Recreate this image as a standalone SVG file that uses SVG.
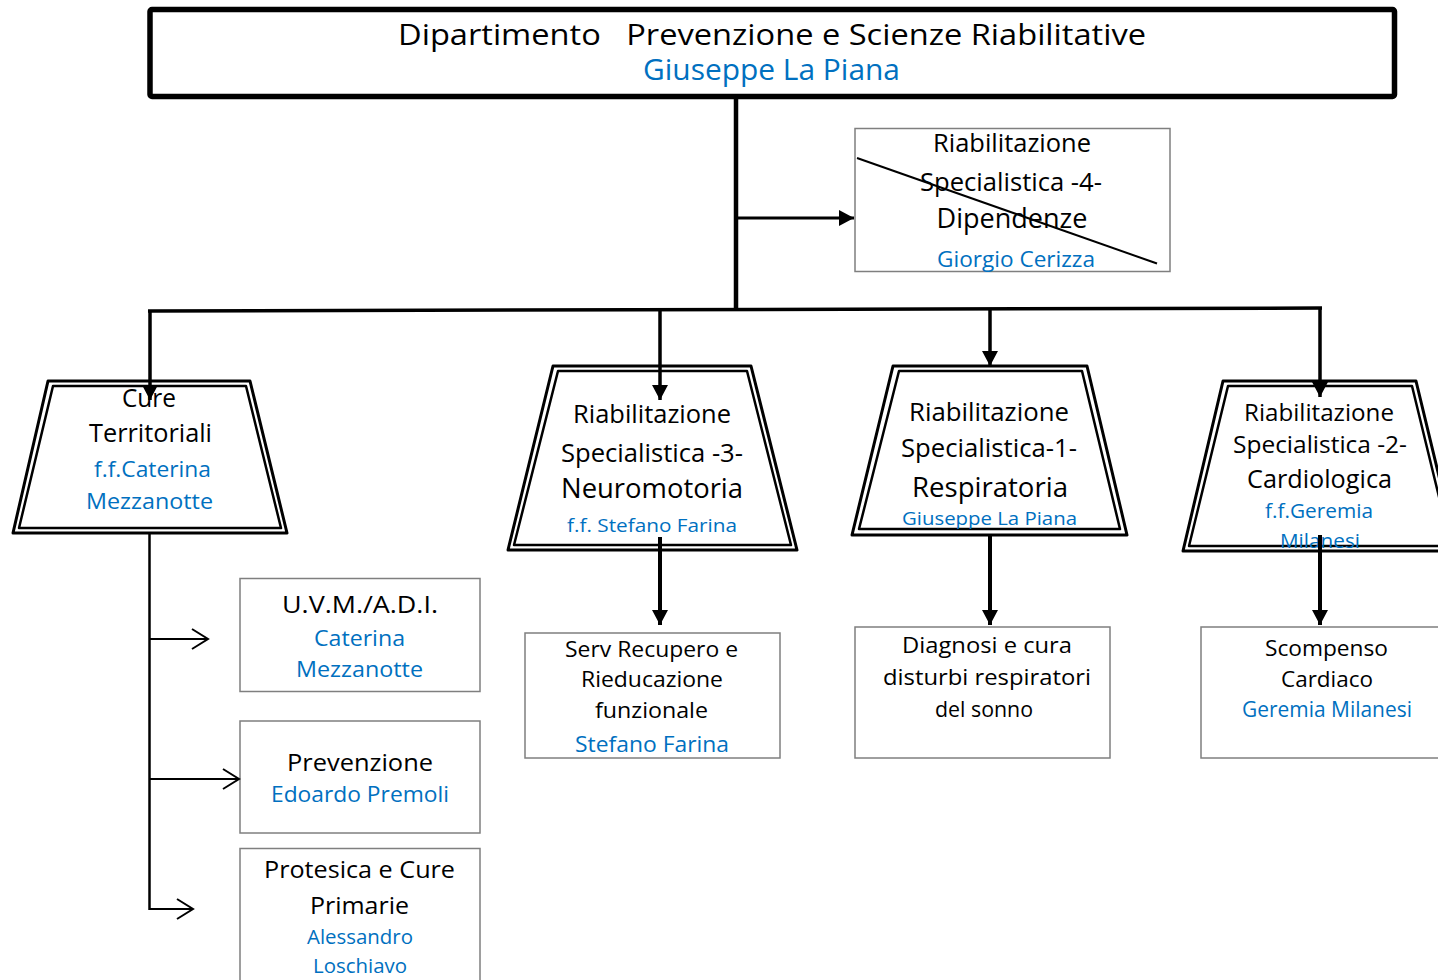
<svg xmlns="http://www.w3.org/2000/svg" width="1438" height="980" viewBox="0 0 1438 980">
<style>
text{font-family:"Open Sans","Noto Sans",sans-serif;text-anchor:middle;fill:#000}
.b{fill:#0070C0}
.box{fill:#fff;stroke:#7f7f7f;stroke-width:1.5}
.tz{fill:#fff;stroke:#000;stroke-width:3;stroke-linejoin:round}
.tzi{fill:none;stroke:#000;stroke-width:2.5;stroke-linejoin:round}
.c{fill:none;stroke:#000}
</style>
<defs>
<marker id="fa" markerUnits="userSpaceOnUse" markerWidth="16" markerHeight="16" refX="15" refY="8" orient="auto">
<path d="M0,0 L15,8 L0,16 z" fill="#000"/>
</marker>
<marker id="oa" markerUnits="userSpaceOnUse" markerWidth="20" markerHeight="24" refX="17" refY="11" orient="auto">
<path d="M1,1 L17,11 L1,21" fill="none" stroke="#000" stroke-width="2"/>
</marker>
</defs>
<rect width="1438" height="980" fill="#fff"/>

<g id="dept">
<rect x="150" y="9.5" width="1244.5" height="87" rx="2" fill="#fff" stroke="#000" stroke-width="5.5"/>
<text x="772" y="45" font-size="30" textLength="748" lengthAdjust="spacingAndGlyphs" xml:space="preserve">Dipartimento   Prevenzione e Scienze Riabilitative</text>
<text class="b" x="771.5" y="80" font-size="30" textLength="257" lengthAdjust="spacingAndGlyphs">Giuseppe La Piana</text>
</g>

<g id="dipendenze">
<rect class="box" x="855" y="128.5" width="315" height="143"/>
<text x="1012" y="152" font-size="25" textLength="158" lengthAdjust="spacingAndGlyphs">Riabilitazione</text>
<text x="1011" y="191" font-size="25" textLength="182" lengthAdjust="spacingAndGlyphs">Specialistica -4-</text>
<text x="1012" y="228" font-size="28" textLength="151" lengthAdjust="spacingAndGlyphs">Dipendenze</text>
<text class="b" x="1016" y="267" font-size="22" textLength="158" lengthAdjust="spacingAndGlyphs">Giorgio Cerizza</text>
<line x1="857" y1="158" x2="1157" y2="263.5" stroke="#000" stroke-width="2"/>
</g>

<g id="cure">
<polygon class="tz" points="48,381 250,381 287,533 13,533"/>
<polygon class="tzi" points="53,386 246,386 281,528 19,528"/>
<text x="149" y="407" font-size="25" textLength="54" lengthAdjust="spacingAndGlyphs">Cure</text>
<text x="150.5" y="442" font-size="25" textLength="123" lengthAdjust="spacingAndGlyphs">Territoriali</text>
<text class="b" x="152.5" y="477" font-size="22" textLength="117" lengthAdjust="spacingAndGlyphs">f.f.Caterina</text>
<text class="b" x="149.5" y="509" font-size="22" textLength="127" lengthAdjust="spacingAndGlyphs">Mezzanotte</text>
</g>

<g id="neuro">
<polygon class="tz" points="553,366 751,366 797,550 508,550"/>
<polygon class="tzi" points="558,371 747,371 791,545 514,545"/>
<text x="652" y="423" font-size="25" textLength="158" lengthAdjust="spacingAndGlyphs">Riabilitazione</text>
<text x="652" y="462" font-size="25" textLength="182" lengthAdjust="spacingAndGlyphs">Specialistica -3-</text>
<text x="652" y="498" font-size="28" textLength="182" lengthAdjust="spacingAndGlyphs">Neuromotoria</text>
<text class="b" x="652" y="532" font-size="19" textLength="170" lengthAdjust="spacingAndGlyphs">f.f. Stefano Farina</text>
</g>

<g id="respir">
<polygon class="tz" points="893,366 1087,366 1127,535 852,535"/>
<polygon class="tzi" points="899,371 1082,371 1120,529 859,529"/>
<text x="989" y="421" font-size="25" textLength="160" lengthAdjust="spacingAndGlyphs">Riabilitazione</text>
<text x="989" y="457" font-size="25" textLength="176" lengthAdjust="spacingAndGlyphs">Specialistica-1-</text>
<text x="990" y="497" font-size="28" textLength="156" lengthAdjust="spacingAndGlyphs">Respiratoria</text>
<text class="b" x="989.5" y="525" font-size="19" textLength="175" lengthAdjust="spacingAndGlyphs">Giuseppe La Piana</text>
</g>

<g id="cardio">
<polygon class="tz" points="1223,381 1416,381 1457,551 1183,551"/>
<polygon class="tzi" points="1228,386 1412,386 1451,546 1189,546"/>
<text x="1319" y="421" font-size="23" textLength="150" lengthAdjust="spacingAndGlyphs">Riabilitazione</text>
<text x="1320" y="453" font-size="23" textLength="174" lengthAdjust="spacingAndGlyphs">Specialistica -2-</text>
<text x="1319.5" y="488" font-size="25" textLength="145" lengthAdjust="spacingAndGlyphs">Cardiologica</text>
<text class="b" x="1319" y="518" font-size="20" textLength="108" lengthAdjust="spacingAndGlyphs">f.f.Geremia</text>
<text class="b" x="1320" y="548" font-size="20" textLength="80" lengthAdjust="spacingAndGlyphs">Milanesi</text>
</g>

<g id="serv">
<rect class="box" x="525" y="633" width="255" height="125"/>
<text x="651.5" y="657" font-size="22" textLength="173" lengthAdjust="spacingAndGlyphs">Serv Recupero e</text>
<text x="652" y="687" font-size="22" textLength="142" lengthAdjust="spacingAndGlyphs">Rieducazione</text>
<text x="651.5" y="718" font-size="22" textLength="113" lengthAdjust="spacingAndGlyphs">funzionale</text>
<text class="b" x="652" y="752" font-size="22" textLength="154" lengthAdjust="spacingAndGlyphs">Stefano Farina</text>
</g>

<g id="diagnosi">
<rect class="box" x="855" y="627" width="255" height="131"/>
<text x="987" y="653" font-size="22" textLength="170" lengthAdjust="spacingAndGlyphs">Diagnosi e cura</text>
<text x="987" y="685" font-size="22" textLength="208" lengthAdjust="spacingAndGlyphs">disturbi respiratori</text>
<text x="984" y="717" font-size="22" textLength="98" lengthAdjust="spacingAndGlyphs">del sonno</text>
</g>

<g id="scompenso">
<rect class="box" x="1201" y="627" width="260" height="131"/>
<text x="1326.5" y="656" font-size="22" textLength="123" lengthAdjust="spacingAndGlyphs">Scompenso</text>
<text x="1327" y="687" font-size="22" textLength="92" lengthAdjust="spacingAndGlyphs">Cardiaco</text>
<text class="b" x="1327" y="717" font-size="21" textLength="170" lengthAdjust="spacingAndGlyphs">Geremia Milanesi</text>
</g>

<g id="uvm">
<rect class="box" x="240" y="578.5" width="240" height="113"/>
<text x="360" y="613" font-size="24" textLength="156" lengthAdjust="spacingAndGlyphs">U.V.M./A.D.I.</text>
<text class="b" x="359.5" y="646" font-size="22" textLength="91" lengthAdjust="spacingAndGlyphs">Caterina</text>
<text class="b" x="359.5" y="677" font-size="22" textLength="127" lengthAdjust="spacingAndGlyphs">Mezzanotte</text>
</g>

<g id="prevenzione">
<rect class="box" x="240" y="721" width="240" height="112"/>
<text x="360" y="771" font-size="24" textLength="146" lengthAdjust="spacingAndGlyphs">Prevenzione</text>
<text class="b" x="360" y="802" font-size="22" textLength="178" lengthAdjust="spacingAndGlyphs">Edoardo Premoli</text>
</g>

<g id="protesica">
<rect class="box" x="240" y="848.5" width="240" height="140"/>
<text x="359.5" y="878" font-size="24" textLength="191" lengthAdjust="spacingAndGlyphs">Protesica e Cure</text>
<text x="359.5" y="914" font-size="24" textLength="99" lengthAdjust="spacingAndGlyphs">Primarie</text>
<text class="b" x="360" y="944" font-size="20" textLength="106" lengthAdjust="spacingAndGlyphs">Alessandro</text>
<text class="b" x="360" y="973" font-size="20" textLength="94" lengthAdjust="spacingAndGlyphs">Loschiavo</text>
</g>

<g id="connectors">
<line class="c" x1="736" y1="98" x2="736" y2="310" stroke-width="4.5"/>
<line class="c" x1="736" y1="218" x2="854" y2="218" stroke-width="3" marker-end="url(#fa)"/>
<line class="c" x1="148" y1="311" x2="1322" y2="308" stroke-width="3.5"/>
<line class="c" x1="150" y1="311" x2="150" y2="400" stroke-width="3.5" marker-end="url(#fa)"/>
<line class="c" x1="660" y1="310" x2="660" y2="400" stroke-width="3.5" marker-end="url(#fa)"/>
<line class="c" x1="990" y1="309" x2="990" y2="366" stroke-width="3.5" marker-end="url(#fa)"/>
<line class="c" x1="1320" y1="308" x2="1320" y2="397" stroke-width="3.5" marker-end="url(#fa)"/>
<line class="c" x1="660" y1="537" x2="660" y2="625" stroke-width="4" marker-end="url(#fa)"/>
<line class="c" x1="990" y1="536" x2="990" y2="625" stroke-width="4" marker-end="url(#fa)"/>
<line class="c" x1="1320" y1="535" x2="1320" y2="625" stroke-width="4" marker-end="url(#fa)"/>
<line class="c" x1="149.5" y1="533" x2="149.5" y2="910" stroke-width="2.5"/>
<line class="c" x1="149" y1="639" x2="208" y2="639" stroke-width="2" marker-end="url(#oa)"/>
<line class="c" x1="149" y1="779" x2="239" y2="779" stroke-width="2" marker-end="url(#oa)"/>
<line class="c" x1="149" y1="909" x2="193" y2="909" stroke-width="2" marker-end="url(#oa)"/>
</g>
</svg>
